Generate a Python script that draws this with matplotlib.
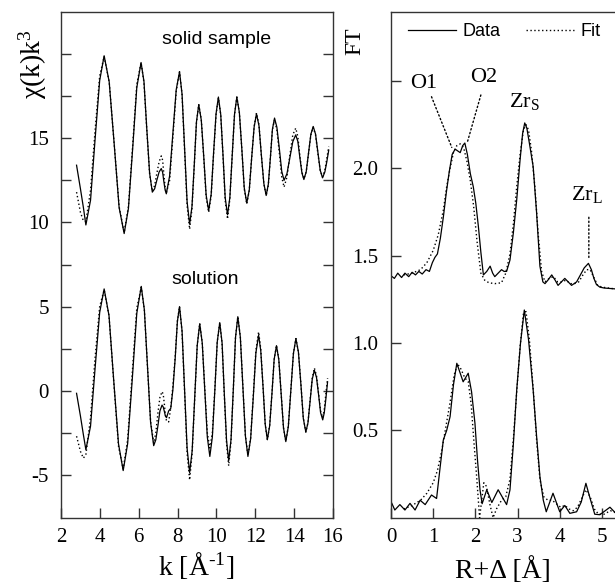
import matplotlib
matplotlib.use("Agg")
import matplotlib.pyplot as plt
from matplotlib.lines import Line2D

plt.rcParams['font.family'] = ['Liberation Serif', 'DejaVu Serif']
plt.rcParams['mathtext.fontset'] = 'custom'
plt.rcParams['mathtext.rm'] = 'Liberation Serif'
plt.rcParams['mathtext.it'] = 'Liberation Serif:italic'
plt.rcParams['mathtext.bf'] = 'Liberation Serif:bold'
plt.rcParams['axes.unicode_minus'] = False
plt.rcParams['lines.solid_joinstyle'] = 'round'
plt.rcParams['lines.dash_joinstyle'] = 'round'

# ---------------- data: EXAFS chi(k)k^3 ----------------
k_solid = [2.80, 3.00, 3.15, 3.28,
           3.52, 3.75, 3.99, 4.22,
           4.48, 4.74, 4.99, 5.25,
           5.47, 5.69, 5.90, 6.12,
           6.27, 6.41, 6.56, 6.70,
           6.82, 6.93, 7.05, 7.16,
           7.23, 7.29, 7.36, 7.42,
           7.59, 7.76, 7.93, 8.10,
           8.23, 8.36, 8.49, 8.62,
           8.74, 8.86, 8.97, 9.09,
           9.22, 9.35, 9.47, 9.60,
           9.73, 9.85, 9.98, 10.10,
           10.22, 10.34, 10.45, 10.57,
           10.69, 10.81, 10.93, 11.05,
           11.18, 11.31, 11.43, 11.56,
           11.69, 11.81, 11.94, 12.06,
           12.19, 12.31, 12.44, 12.56,
           12.67, 12.78, 12.88, 12.99,
           13.11, 13.24, 13.36, 13.48,
           13.63, 13.78, 13.93, 14.08,
           14.19, 14.29, 14.40, 14.50,
           14.62, 14.74, 14.86, 14.98,
           15.10, 15.22, 15.34, 15.46,
           15.58, 15.68, 15.78]
chi_solid_data = [13.4, 12.0, 10.9, 9.85,
                  11.32, 14.88, 18.43, 19.9,
                  18.35, 14.62, 10.89, 9.34,
                  10.83, 14.42, 18.01, 19.5,
                  18.37, 15.65, 12.93, 11.8,
                  12.0, 12.5, 13.0, 13.2,
                  12.98, 12.45, 11.92, 11.7,
                  12.76, 15.33, 17.89, 18.95,
                  17.62, 14.43, 11.23, 9.9,
                  10.94, 13.45, 15.96, 17.0,
                  16.08, 13.85, 11.62, 10.7,
                  11.69, 14.08, 16.46, 17.45,
                  16.42, 13.95, 11.48, 10.45,
                  11.48, 13.95, 16.42, 17.45,
                  16.53, 14.3, 12.07, 11.15,
                  11.93, 13.8, 15.67, 16.45,
                  15.74, 14.03, 12.31, 11.6,
                  12.27, 13.9, 15.53, 16.2,
                  15.66, 14.35, 13.04, 12.5,
                  12.90, 13.85, 14.80, 15.2,
                  14.81, 13.88, 12.94, 12.55,
                  13.01, 14.13, 15.24, 15.7,
                  15.25, 14.18, 13.10, 12.65,
                  13.0, 13.6, 14.3]
chi_solid_fit = [11.8, 10.6, 10.1, 10.05,
                 11.9, 15.4, 18.7, 19.85,
                 18.35, 14.62, 10.95, 9.4,
                 10.95, 14.6, 18.2, 19.5,
                 18.3, 15.6, 12.9, 11.85,
                 12.2, 12.9, 13.6, 13.95,
                 13.7, 12.9, 12.1, 11.75,
                 12.5, 15.1, 17.8, 18.95,
                 17.6, 14.3, 11.0, 9.6,
                 10.8, 13.4, 15.9, 17.0,
                 16.1, 13.8, 11.5, 10.6,
                 11.6, 14.0, 16.4, 17.4,
                 16.4, 13.9, 11.3, 10.2,
                 11.4, 13.95, 16.4, 17.45,
                 16.5, 14.3, 12.0, 11.1,
                 11.9, 13.8, 15.7, 16.5,
                 15.8, 14.0, 12.3, 11.6,
                 12.2, 13.9, 15.5, 16.1,
                 15.5, 14.1, 12.7, 12.1,
                 12.7, 14.0, 15.2, 15.6,
                 15.1, 14.0, 13.0, 12.6,
                 13.0, 14.1, 15.2, 15.65,
                 15.2, 14.1, 13.1, 12.7,
                 13.1, 13.8, 14.5]

k_solution = [2.80, 3.00, 3.15, 3.28,
              3.52, 3.75, 3.99, 4.22,
              4.47, 4.71, 4.96, 5.20,
              5.43, 5.67, 5.90, 6.13,
              6.29, 6.45, 6.61, 6.77,
              6.88, 6.99, 7.09, 7.20,
              7.26, 7.32, 7.37, 7.43,
              7.54, 7.65,
              7.76, 7.88, 7.99, 8.10,
              8.23, 8.36, 8.49, 8.62,
              8.75, 8.88, 9.01, 9.14,
              9.27, 9.40, 9.53, 9.66,
              9.79, 9.92, 10.04, 10.17,
              10.29, 10.40, 10.52, 10.63,
              10.75, 10.87, 10.98, 11.10,
              11.23, 11.36, 11.49, 11.62,
              11.76, 11.90, 12.03, 12.17,
              12.28, 12.40, 12.51, 12.62,
              12.74, 12.86, 12.97, 13.09,
              13.21, 13.33, 13.45, 13.57,
              13.70, 13.83, 13.96, 14.09,
              14.22, 14.35, 14.47, 14.60,
              14.71, 14.82, 14.93, 15.04,
              15.15, 15.26, 15.36, 15.47,
              15.55, 15.63, 15.72]
chi_solution_data = [-0.15, -1.5, -2.6, -3.5,
                     -2.10, 1.28, 4.65, 6.05,
                     4.47, 0.66, -3.16, -4.74,
                     -3.14, 0.73, 4.60, 6.2,
                     4.81, 1.47, -1.87, -3.26,
                     -2.91, -2.06, -1.20, -0.85,
                     -0.96, -1.23, -1.49, -1.6,
                     -1.2, -1.04,
                     0.09, 1.98, 4.12, 5.0,
                     3.56, 0.07, -3.42, -4.86,
                     -3.56, -0.44, 2.69, 3.98,
                     2.83, 0.04, -2.75, -3.9,
                     -2.74, 0.08, 2.89, 4.05,
                     2.85, -0.05, -2.95, -4.15,
                     -2.90, 0.13, 3.15, 4.4,
                     3.18, 0.25, -2.68, -3.9,
                     -2.85, -0.3, 2.25, 3.3,
                     2.39, 0.2, -1.99, -2.9,
                     -2.08, -0.11, 1.86, 2.68,
                     1.85, -0.17, -2.19, -3.02,
                     -2.12, 0.04, 2.20, 3.1,
                     2.29, 0.33, -1.64, -2.45,
                     -1.91, -0.62, 0.68, 1.22,
                     0.79, -0.26, -1.30, -1.73,
                     -1.3, -0.5, 0.53]
chi_solution_fit = [-2.7, -3.6, -4.0, -3.8,
                    -1.6, 1.9, 5.0, 6.0,
                    4.45, 0.6, -3.3, -4.65,
                    -2.9, 1.1, 4.9, 6.15,
                    4.8, 1.45, -1.8, -3.1,
                    -2.5, -1.3, -0.4, -0.05,
                    -0.2, -0.8, -1.4, -1.8,
                    -1.85, -1.0,
                    0.3, 2.1, 4.15, 5.0,
                    3.5, -0.05, -3.7, -5.3,
                    -3.7, -0.5, 2.7, 4.0,
                    2.85, 0.1, -2.5, -3.4,
                    -2.5, 0.15, 2.9, 4.05,
                    2.8, -0.15, -3.15, -4.45,
                    -3.0, 0.1, 3.15, 4.4,
                    3.2, 0.25, -2.65, -3.85,
                    -2.8, -0.2, 2.4, 3.5,
                    2.5, 0.2, -2.0, -2.9,
                    -2.05, -0.1, 1.85, 2.7,
                    1.85, -0.15, -2.2, -3.0,
                    -2.1, 0.05, 2.2, 3.1,
                    2.3, 0.35, -1.6, -2.45,
                    -1.9, -0.55, 0.75, 1.35,
                    0.9, -0.2, -1.2, -1.6,
                    -1.1, -0.2, 0.75]

# ---------------- data: Fourier transforms ----------------
r_upper_data = [0.00, 0.08, 0.16, 0.25, 0.33, 0.42, 0.50, 0.58, 0.66, 0.74,
                0.83, 0.91, 0.98, 1.04, 1.10, 1.17, 1.24, 1.31, 1.38, 1.45,
                1.52, 1.58, 1.64, 1.70, 1.75, 1.81, 1.88, 1.95, 2.01, 2.07,
                2.13, 2.19, 2.27, 2.35, 2.41, 2.46, 2.54, 2.62, 2.68, 2.74,
                2.82, 2.90, 2.98, 3.06, 3.12, 3.17, 3.22, 3.29, 3.37, 3.45,
                3.53, 3.60, 3.65, 3.72, 3.81, 3.89, 3.96, 4.04, 4.12, 4.20,
                4.28, 4.34, 4.40, 4.49, 4.58, 4.68, 4.75, 4.81, 4.87, 4.95,
                5.05, 5.15, 5.31]
ft_upper_data = [1.385, 1.37, 1.40, 1.375, 1.40, 1.38, 1.405, 1.39, 1.41, 1.395,
                 1.42, 1.41, 1.46, 1.49, 1.51, 1.60, 1.72, 1.86, 1.98, 2.08,
                 2.11, 2.10, 2.09, 2.13, 2.145, 2.08, 1.97, 1.895, 1.80, 1.67,
                 1.52, 1.39, 1.41, 1.44, 1.40, 1.38, 1.40, 1.42, 1.41, 1.41,
                 1.475, 1.63, 1.82, 2.05, 2.20, 2.26, 2.23, 2.13, 2.01, 1.75,
                 1.44, 1.35, 1.34, 1.36, 1.39, 1.36, 1.33, 1.35, 1.37, 1.35,
                 1.33, 1.34, 1.35, 1.39, 1.43, 1.456, 1.42, 1.37, 1.335, 1.32,
                 1.315, 1.313, 1.31]
r_upper_fit = [0.30, 0.50, 0.70, 0.85, 1.00, 1.12, 1.24, 1.32, 1.40, 1.48,
               1.56, 1.64, 1.72, 1.80, 1.88, 1.96, 2.04, 2.13, 2.22, 2.32,
               2.46, 2.62, 2.72, 2.82, 2.90, 2.98, 3.06, 3.14, 3.20, 3.26,
               3.33, 3.41, 3.49, 3.57, 3.65, 3.75, 3.85, 3.95, 4.05, 4.15,
               4.25, 4.35, 4.45, 4.55, 4.64, 4.72, 4.80, 4.90, 5.00, 5.15,
               5.31]
ft_upper_fit = [1.39, 1.40, 1.42, 1.46, 1.53, 1.62, 1.76, 1.895, 2.00, 2.09,
                2.13, 2.14, 2.12, 2.04, 1.93, 1.78, 1.58, 1.40, 1.36, 1.345,
                1.34, 1.345, 1.40, 1.51, 1.68, 1.895, 2.08, 2.22, 2.25, 2.22,
                2.10, 1.895, 1.62, 1.41, 1.35, 1.37, 1.38, 1.35, 1.35, 1.36,
                1.34, 1.34, 1.35, 1.39, 1.42, 1.42, 1.38, 1.33, 1.32, 1.315,
                1.31]

r_lower_data = [0.02, 0.09, 0.21, 0.33, 0.45, 0.57, 0.69, 0.81, 0.96, 1.08,
                1.16, 1.24, 1.32, 1.40, 1.48, 1.56, 1.71, 1.83, 1.91, 1.99,
                2.05, 2.11, 2.16, 2.27, 2.39, 2.54, 2.74, 2.82, 2.90, 2.98,
                3.07, 3.16, 3.26, 3.37, 3.45, 3.53, 3.61, 3.68, 3.84, 4.00,
                4.12, 4.24, 4.40, 4.51, 4.62, 4.72, 4.83, 4.95, 5.19, 5.31]
ft_lower_data = [0.082, 0.044, 0.075, 0.044, 0.082, 0.044, 0.10, 0.075, 0.13, 0.11,
                 0.28, 0.445, 0.50, 0.578, 0.76, 0.884, 0.778, 0.827, 0.72, 0.54,
                 0.33, 0.159, 0.08, 0.16, 0.087, 0.16, 0.075, 0.159, 0.42, 0.731,
                 1.00, 1.189, 1.02, 0.731, 0.47, 0.235, 0.10, 0.034, 0.14, 0.034,
                 0.07, 0.025, 0.034, 0.09, 0.197, 0.11, 0.02, 0.017, 0.06, 0.03]
r_lower_fit = [0.30, 0.50, 0.70, 0.85, 1.00, 1.10, 1.20, 1.30, 1.40, 1.50,
               1.58, 1.66, 1.75, 1.83, 1.90, 1.97, 2.03, 2.10, 2.20, 2.26,
               2.35, 2.42, 2.50, 2.62, 2.72, 2.82, 2.90, 2.98, 3.06, 3.14,
               3.20, 3.28, 3.37, 3.45, 3.53, 3.62, 3.72, 3.82, 3.92, 4.02,
               4.12, 4.22, 4.32, 4.42, 4.52, 4.62, 4.72, 4.82, 4.92, 5.05,
               5.20, 5.31]
ft_lower_fit = [0.05, 0.07, 0.10, 0.14, 0.20, 0.27, 0.38, 0.52, 0.66, 0.82,
                0.88, 0.85, 0.80, 0.78, 0.65, 0.42, 0.235, 0.0, 0.20, 0.18,
                0.07, 0.0, 0.05, 0.10, 0.12, 0.22, 0.45, 0.72, 0.98, 1.17,
                1.18, 1.02, 0.74, 0.45, 0.22, 0.12, 0.10, 0.10, 0.08, 0.06,
                0.07, 0.05, 0.04, 0.06, 0.11, 0.16, 0.12, 0.05, 0.02, 0.02,
                0.04, 0.03]

left_ticks = [-5, -2.5, 0, 2.5, 5, 7.5, 10, 12.5, 15, 17.5, 20]
left_ticklabels = ['-5', '', '0', '', '5', '', '10', '', '15', '', '']
k_ticks = [2, 4, 6, 8, 10, 12, 14, 16]
r_ticks = [0, 1, 2, 3, 4, 5]
ft_ticks = [0.5, 1.0, 1.5, 2.0, 2.5]
ft_ticklabels = ['0.5', '1.0', '1.5', '2.0', '']

# ---------------- figure ----------------
fig = plt.figure(figsize=(6.15, 5.83), dpi=100)
ax1 = fig.add_axes([0.0992, 0.112, 0.4423, 0.8674])
ax2 = fig.add_axes([0.6358, 0.112, 0.3642, 0.8674])

spine_col = '#333333'
lw_line = 0.9
dot = (0, (1, 1.8))

# left panel
ax1.plot(k_solid, chi_solid_fit, color='black', lw=1.0, ls=dot)
ax1.plot(k_solid, chi_solid_data, color='black', lw=lw_line)
ax1.plot(k_solution, chi_solution_fit, color='black', lw=1.0, ls=dot)
ax1.plot(k_solution, chi_solution_data, color='black', lw=lw_line)
ax1.set_xlim(2, 16)
ax1.set_ylim(-7.54, 22.5)
ax1.set_xticks(k_ticks)
ax1.set_xticklabels([str(t) for t in k_ticks])
ax1.set_yticks(left_ticks)
ax1.set_yticklabels(left_ticklabels)
ax1.tick_params(axis='both', direction='in', length=7.2, width=1.0,
                color=spine_col, labelsize=15)
ax1.tick_params(axis='y', right=True, left=True, pad=8.6)
ax1.tick_params(axis='x', top=False, pad=7.5)
for s in ax1.spines.values():
    s.set_color(spine_col)
    s.set_linewidth(1.0)
ax1.text(10.0, 20.84, 'solid sample', ha='center', va='center',
         family='Liberation Sans', fontsize=14)
ax1.text(9.42, 6.6, 'solution', ha='center', va='center',
         family='Liberation Sans', fontsize=14)
ax1.text(-0.103, 0.897, r'χ(k)k$^{\mathrm{3}}$', transform=ax1.transAxes,
         rotation=90, ha='center', va='center', fontsize=20)
ax1.text(0.496, -0.113, r'k [Å$^{\text{-1}}$]', transform=ax1.transAxes,
         ha='center', va='baseline', fontsize=20)

# right panel
ax2.plot(r_upper_fit, ft_upper_fit, color='black', lw=1.0, ls=dot)
ax2.plot(r_upper_data, ft_upper_data, color='black', lw=lw_line)
ax2.plot(r_lower_fit, ft_lower_fit, color='black', lw=1.0, ls=dot)
ax2.plot(r_lower_data, ft_lower_data, color='black', lw=lw_line)
ax2.set_xlim(0, 5.31)
ax2.set_ylim(0, 2.895)
ax2.set_xticks(r_ticks)
ax2.set_xticklabels([str(t) for t in r_ticks])
ax2.set_yticks(ft_ticks)
ax2.set_yticklabels(ft_ticklabels)
ax2.tick_params(axis='both', direction='in', length=7.2, width=1.0,
                color=spine_col, labelsize=15)
ax2.tick_params(axis='y', pad=9.2)
ax2.tick_params(axis='x', pad=7.5)
for s in ax2.spines.values():
    s.set_color(spine_col)
    s.set_linewidth(1.0)
ax2.spines['right'].set_visible(False)
ax2.text(-0.162, 0.943, 'FT', transform=ax2.transAxes, rotation=90,
         ha='center', va='center', fontsize=17)
ax2.text(0.50, -0.119, 'R+Δ [Å]', transform=ax2.transAxes,
         ha='center', va='baseline', fontsize=20)

# peak labels with dotted leaders
lead = dict(arrowstyle='-', linestyle=dot, lw=1.0, color='black',
            shrinkA=0, shrinkB=0)
ax2.text(0.765, 2.458, 'O1', ha='center', va='baseline', fontsize=16)
ax2.text(2.20, 2.496, 'O2', ha='center', va='baseline', fontsize=16)
ax2.text(3.17, 2.353, r'Zr$_{\mathrm{S}}$', ha='center', va='baseline', fontsize=16)
ax2.text(4.64, 1.819, r'Zr$_{\mathrm{L}}$', ha='center', va='baseline', fontsize=16)
ax2.annotate('', xy=(1.44, 2.12), xytext=(0.96, 2.41), arrowprops=lead)
ax2.annotate('', xy=(1.81, 2.15), xytext=(2.13, 2.42), arrowprops=lead)
ax2.annotate('', xy=(4.69, 1.49), xytext=(4.69, 1.72), arrowprops=lead)

handles = [Line2D([], [], color='black', lw=lw_line),
           Line2D([], [], color='black', lw=1.0, ls=dot)]
ax2.legend(handles, ['Data', 'Fit'], loc='center left',
           bbox_to_anchor=(0.076, 0.961), ncol=2, frameon=False,
           prop={'family': 'Liberation Sans', 'size': 13},
           handlelength=2.65, handletextpad=0.35, columnspacing=1.45,
           borderpad=0, borderaxespad=0)

fig.savefig('out.png', dpi=100)
